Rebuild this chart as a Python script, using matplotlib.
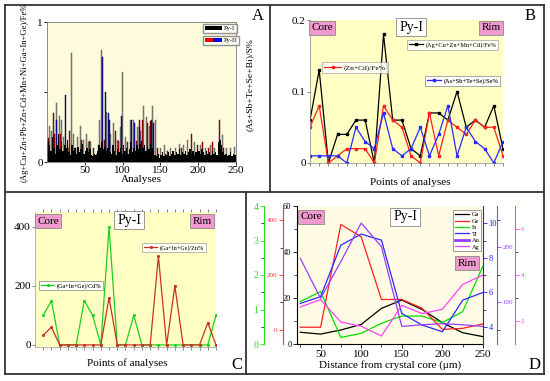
import numpy as np
import matplotlib.pyplot as plt
from matplotlib.lines import Line2D
from matplotlib.patches import Patch
from matplotlib.legend_handler import HandlerTuple

plt.rcParams['font.family'] = ['Liberation Serif', 'DejaVu Serif']

W, H = 550, 381

# ---------------- data ----------------
# panel A: bar heights
a_black = [0.15, 0.12, 0.08, 0.18, 0.10, 0.06, 0.12, 0.20, 0.09, 0.14,
           0.08, 0.12, 0.10, 0.16, 0.07, 0.05, 0.12, 0.08, 0.10, 0.06,
           0.11, 0.07, 0.09, 0.13, 0.06, 0.08, 0.10, 0.07, 0.09, 0.05,
           0.04, 0.06, 0.05, 0.08, 0.12, 0.10, 0.14, 0.09, 0.11, 0.08,
           0.10, 0.07, 0.06, 0.12, 0.08, 0.05, 0.09, 0.07, 0.10, 0.06,
           0.12, 0.08, 0.10, 0.06, 0.09, 0.14, 0.07, 0.10, 0.08, 0.12,
           0.09, 0.13, 0.07, 0.10, 0.12, 0.08, 0.11, 0.09, 0.13, 0.10,
           0.08, 0.05, 0.04, 0.06, 0.03, 0.05, 0.07, 0.04, 0.06, 0.05,
           0.07, 0.04, 0.06, 0.08, 0.05, 0.07, 0.06, 0.09, 0.05, 0.07,
           0.06, 0.08, 0.05, 0.07, 0.09, 0.06, 0.08, 0.05, 0.07, 0.09,
           0.08, 0.06, 0.09, 0.07, 0.05, 0.08, 0.06, 0.07, 0.05, 0.08,
           0.06, 0.07, 0.05, 0.14, 0.16, 0.12, 0.07, 0.05, 0.06, 0.04,
           0.05, 0.07, 0.04, 0.06, 0.05]
a_black_x = np.arange(1, 250, 2)
a_gray_x = [3, 6, 13, 16, 19, 22, 28, 32, 35, 40, 44, 48, 52, 55, 58, 65, 70, 72, 79, 84,
            88, 93, 97, 100, 104, 110, 114, 120, 124, 127, 131, 135, 140, 143, 150, 156,
            163, 170, 175, 180, 186, 195, 203, 210, 216, 222, 232, 237, 243, 248]
a_gray = [0.26, 0.22, 0.42, 0.33, 0.30, 0.18, 0.10, 0.78, 0.20, 0.18, 0.26, 0.16, 0.20, 0.14,
          0.14, 0.06, 0.30, 0.80, 0.36, 0.20, 0.28, 0.16, 0.25, 0.64, 0.18, 0.30, 0.30, 0.25,
          0.22, 0.40, 0.32, 0.26, 0.40, 0.30, 0.10, 0.12, 0.10, 0.10, 0.13, 0.12, 0.16, 0.14,
          0.12, 0.10, 0.12, 0.10, 0.19, 0.10, 0.10, 0.11]
a_red_x = [2, 8, 10, 18, 24, 30, 38, 46, 56, 62, 68, 76, 82, 90, 95, 106, 118, 122, 126, 133,
           137, 146, 160, 178, 191, 199, 206, 213, 219, 228, 234]
a_red = [0.17, 0.35, 0.20, 0.20, 0.12, 0.22, 0.10, 0.16, 0.15, 0.10, 0.12, 0.16, 0.14, 0.22,
         0.15, 0.14, 0.15, 0.30, 0.30, 0.28, 0.29, 0.10, 0.08, 0.10, 0.20, 0.12, 0.14, 0.10,
         0.14, 0.30, 0.10]
a_blue_x = [12, 24, 74, 77, 81, 83, 98, 112, 116, 123, 125, 138, 141]
a_blue = [0.30, 0.48, 0.75, 0.50, 0.35, 0.30, 0.33, 0.30, 0.28, 0.25, 0.15, 0.30, 0.28]

# panel B
b_x = np.arange(22)
b_all = [0.06, 0.13, 0.0, 0.04, 0.04, 0.06, 0.06, 0.0, 0.18, 0.06, 0.06,
         0.02, 0.01, 0.07, 0.07, 0.06, 0.10, 0.05, 0.06, 0.05, 0.08, 0.02]
b_zncd = [0.05, 0.08, 0.0, 0.01, 0.02, 0.02, 0.02, 0.0, 0.08, 0.06, 0.05,
          0.01, 0.0, 0.07, 0.01, 0.06, 0.05, 0.04, 0.06, 0.05, 0.05, 0.01]
b_as = [0.01, 0.01, 0.01, 0.01, 0.0, 0.05, 0.03, 0.02, 0.07, 0.02, 0.01,
        0.02, 0.05, 0.01, 0.04, 0.08, 0.01, 0.05, 0.03, 0.02, 0.0, 0.03]

# panel C
c_x = np.arange(22)
c_cd = [100, 150, 0, 0, 0, 150, 100, 0, 400, 0, 0, 100, 0, 0, 0, 0, 0, 0, 0, 0, 0, 100]
c_zn = [33, 60, 0, 0, 0, 0, 0, 0, 160, 0, 0, 0, 0, 0, 300, 0, 200, 0, 0, 0, 75, 0]

# panel D
d_x = [25, 50, 75, 100, 125, 150, 175, 200, 225, 250]
d_ga = [5.1, 4.3, 6.1, 8.5, 15.5, 19.1, 15.0, 9.3, 4.9, 3.2]
d_ge = [10, 10, 384, 339, 111, 111, 79, 2, 6, 22]
d_in = [1.23, 1.52, 0.19, 0.31, 0.60, 0.81, 0.81, 0.62, 0.94, 2.26]
d_tl = [5.35, 5.74, 8.73, 9.37, 9.02, 4.77, 4.10, 3.71, 5.54, 5.99]
d_au = [180, 107, 174, 244, 201, 56, 59, 61, 59, 56]
d_ag = [2.61, 2.93, 1.96, 1.77, 1.35, 2.68, 2.32, 2.51, 3.59, 4.00]


def box(x0, y0, x1, y1):
    return [x0 / W, 1 - y1 / H, (x1 - x0) / W, (y1 - y0) / H]


def tag(ax, x, y, s, pink=True, fs=8):
    ax.text(x / W, 1 - y / H, s, transform=ax.figure.transFigure, ha='center', va='center',
            fontsize=fs, zorder=10,
            bbox=dict(boxstyle='square,pad=0.2', fc='#f19ad0' if pink else 'white',
                      ec='#888888', lw=0.6))


def small_legend(ax, handle, label, x, y, fs=4.6):
    lg = ax.legend([handle], [label], loc='upper left', bbox_to_anchor=(x / W, 1 - y / H),
                   bbox_transform=ax.figure.transFigure, fontsize=fs, frameon=True,
                   fancybox=False, handlelength=2.2, borderpad=0.3, handletextpad=0.4,
                   borderaxespad=0)
    lg.get_frame().set_edgecolor('#888888')
    lg.get_frame().set_linewidth(0.5)
    ax.add_artist(lg)


fig = plt.figure(figsize=(5.5, 3.81), dpi=100)

# frame lines
for (x0, y0, x1, y1) in [(5, 5, 544, 5), (5, 374, 544, 374), (5, 5, 5, 374), (544, 5, 544, 374),
                         (5, 192, 544, 192), (270, 5, 270, 192), (246, 192, 246, 374)]:
    fig.add_artist(Line2D([x0 / W, x1 / W], [1 - y0 / H, 1 - y1 / H], color='#333333', lw=1.3))

# ---------------- panel A ----------------
axA = fig.add_axes(box(47, 22, 236, 162))
axA.set_facecolor('#fdfbdc')
axA.bar(a_gray_x, a_gray, width=1.3, color='#8a8a8a', edgecolor='#555555', lw=0.3)
axA.bar(a_red_x, a_red, width=1.3, color='#c00000', edgecolor='#500000', lw=0.3)
axA.bar(a_blue_x, a_blue, width=1.3, color='#1010b0', edgecolor='#000050', lw=0.3)
axA.bar(a_black_x, a_black, width=2.0, color='black', lw=0)
axA.set_xlim(0, 250)
axA.set_ylim(0, 1)
axA.set_xticks([50, 100, 150, 200, 250])
axA.set_yticks([0, 1])
axA.set_yticks([0.5], minor=True)
axA.tick_params(labelsize=8, length=2, width=0.6, pad=1)
axA.tick_params(which='minor', length=2, width=0.6)
axA.set_xlabel('Analyses', fontsize=8, labelpad=0)
for s in axA.spines.values():
    s.set_color('#777777')
    s.set_linewidth(0.6)
fig.text(25 / W, 1 - 92 / H, '(Ag+Cu+Zn+Pb+Zn+Cd+Mn+Ni+Ga+In+Ge)/Fe%', rotation=90,
         ha='center', va='center', fontsize=6.2)
fig.text(250 / W, 1 - 85 / H, '(As+Sb+Te+Se+Bi)/S%', rotation=90,
         ha='center', va='center', fontsize=6.8)
fig.text(258 / W, 1 - 16 / H, 'A', ha='center', va='center', fontsize=12)
lg1 = axA.legend([Patch(fc='black')], ['Py-I'], loc='upper left',
                 bbox_to_anchor=(203 / W, 1 - 24 / H), bbox_transform=fig.transFigure,
                 fontsize=4.6, fancybox=False, handlelength=2.6, borderpad=0.3,
                 handletextpad=0.4, borderaxespad=0)
lg1.get_frame().set_edgecolor('#777777')
axA.add_artist(lg1)
lg2 = axA.legend([(Patch(fc='red'), Patch(fc='blue'))], ['Py-II'], loc='upper left',
                 bbox_to_anchor=(203 / W, 1 - 36 / H), bbox_transform=fig.transFigure,
                 handler_map={tuple: HandlerTuple(ndivide=None, pad=0)},
                 fontsize=4.6, fancybox=False, handlelength=2.6, borderpad=0.3,
                 handletextpad=0.4, borderaxespad=0)
lg2.get_frame().set_edgecolor('#777777')

# ---------------- panel B ----------------
axB = fig.add_axes(box(310, 20, 503, 163))
axB.set_facecolor('#ffffc4')
lb1, = axB.plot(b_x, b_all, color='black', lw=0.9, marker='s', ms=1.5)
lb2, = axB.plot(b_x, b_zncd, color='#ff2020', lw=0.9, marker='s', ms=1.5)
lb3, = axB.plot(b_x, b_as, color='#2a2aff', lw=0.9, marker='s', ms=1.5)
axB.set_xlim(0, 21)
axB.set_ylim(0, 0.2)
axB.set_xticks(b_x)
axB.set_xticklabels([])
axB.set_yticks([0, 0.1, 0.2])
axB.set_yticklabels(['0', '0.1', '0.2'])
axB.tick_params(labelsize=8, length=2, width=0.5, pad=1, colors='#555555', labelcolor='black')
for k in ['top', 'right']:
    axB.spines[k].set_visible(False)
for k in ['left', 'bottom']:
    axB.spines[k].set_color('#888888')
    axB.spines[k].set_linewidth(0.5)
fig.text(410 / W, 1 - 182 / H, 'Points of analyses', ha='center', va='center', fontsize=8)
fig.text(530 / W, 1 - 16 / H, 'B', ha='center', va='center', fontsize=12)
tag(axB, 322, 28, 'Core')
tag(axB, 491, 28, 'Rim')
tag(axB, 411, 27, 'Py-I', pink=False, fs=10)
small_legend(axB, lb1, '(Ag+Cu+Zn+Mn+Cd)/Fe%', 407, 40)
small_legend(axB, lb2, '(Zn+Cd)/Fe%', 322, 62, fs=5.4)
small_legend(axB, lb3, '(As+Sb+Te+Se)/Se%', 425, 76)

# ---------------- panel C ----------------
axC = fig.add_axes(box(35, 212, 216, 347))
axC.set_facecolor('#ffffc4')
lc1, = axC.plot(c_x, c_cd, color='#22cc22', lw=0.9, marker='o', ms=1.2)
lc2, = axC.plot(c_x, c_zn, color='#c8302a', lw=0.9, marker='o', ms=1.2)
axC.set_xlim(-1, 21)
axC.set_ylim(-7, 450)
axC.set_xticks(c_x)
axC.set_xticklabels([])
axC.set_yticks([0, 200, 400])
axC.tick_params(labelsize=8, length=2, width=0.5, pad=1, colors='#555555', labelcolor='black',
                top=True)
for k in ['top', 'right']:
    axC.spines[k].set_visible(False)
for k in ['left', 'bottom']:
    axC.spines[k].set_color('#999999')
    axC.spines[k].set_linewidth(0.5)
fig.text(127 / W, 1 - 363 / H, 'Points of analyses', ha='center', va='center', fontsize=8)
fig.text(237 / W, 1 - 365 / H, 'C', ha='center', va='center', fontsize=12)
tag(axC, 48, 221, 'Core')
tag(axC, 202, 221, 'Rim')
tag(axC, 129, 220, 'Py-I', pink=False, fs=10)
small_legend(axC, lc2, '(Ga+In+Ge)/Zn%', 142, 243, fs=4.4)
small_legend(axC, lc1, '(Ga+In+Ge)/Cd%', 39, 281, fs=4.4)

# ---------------- panel D ----------------
axD = fig.add_axes(box(297, 206, 483, 344))
axD.set_facecolor('#fffbe4')
l_ga, = axD.plot(d_x, d_ga, color='black', lw=0.9)
axD.set_xlim(21, 250)
axD.set_ylim(0, 60)
axD.set_xticks([50, 100, 150, 200, 250])
axD.set_xticks([25, 75, 125, 175, 225], minor=True)
axD.set_yticks([0, 20, 40, 60])
axD.set_yticks([10, 30, 50], minor=True)
axD.tick_params(labelsize=8, length=3, width=0.6, pad=1)
axD.tick_params(axis='y', labelsize=6, pad=1)
axD.tick_params(which='minor', length=2, width=0.5)
axD.spines['top'].set_visible(False)
axD.spines['right'].set_visible(False)
axD.set_xlabel('Distance from crystal core (\u03bcm)', fontsize=8, labelpad=1)


def extra_axis(side, pos, color, ylim, ticks, minor):
    a = axD.twinx()
    for s in a.spines.values():
        s.set_visible(False)
    a.spines[side].set_visible(True)
    a.spines[side].set_position(('axes', pos))
    a.spines[side].set_color(color)
    a.yaxis.set_ticks_position(side)
    a.yaxis.set_label_position(side)
    a.set_ylim(*ylim)
    a.set_yticks(ticks)
    a.set_yticks(minor, minor=True)
    a.tick_params(axis='y', colors=color, labelsize=6, length=3, width=0.6, pad=1)
    a.tick_params(axis='y', which='minor', length=2, width=0.5)
    return a


axG = extra_axis('left', -33 / 186, '#22dd22', (0, 4), [0, 1, 2, 3, 4], [0.5, 1.5, 2.5, 3.5])
axG.tick_params(axis='y', labelsize=7)
l_in, = axG.plot(d_x, d_in, color='#00e000', lw=0.9)
axR = extra_axis('left', -14 / 186, '#ff3030', (-51, 451), [0, 200, 400], [100, 300])
axR.tick_params(axis='y', labelsize=5)
l_ge, = axR.plot(d_x, d_ge, color='#ff2020', lw=0.9)
axT = extra_axis('right', 1.0, '#2020ff', (3, 11), [4, 6, 8, 10], [5, 7, 9])
l_tl, = axT.plot(d_x, d_tl, color='#2a2aff', lw=0.9)
axU = extra_axis('right', 1 + 14 / 186, '#9a3cff', (24, 275), [100, 200], [50, 150, 250])
axU.tick_params(axis='y', labelsize=5)
l_au, = axU.plot(d_x, d_au, color='#9a3cff', lw=0.9)
axM = extra_axis('right', 1 + 32 / 186, '#ff40ff', (1, 7), [2, 4, 6], [3, 5])
axM.tick_params(axis='y', labelsize=5)
l_ag, = axM.plot(d_x, d_ag, color='#ff40ff', lw=0.9)

lgD = axM.legend([l_ga, l_ge, l_in, l_tl, Line2D([], [], color='#9a3cff', lw=2), l_ag],
                 ['Ga', 'Ge', 'In', 'Tl', 'Au', 'Ag'], loc='upper left',
                 bbox_to_anchor=(453 / W, 1 - 210 / H), bbox_transform=fig.transFigure,
                 fontsize=4.6, fancybox=False, handlelength=2.2, borderpad=0.3,
                 labelspacing=0.15, handletextpad=0.4, borderaxespad=0)
lgD.get_frame().set_edgecolor('#555555')
lgD.get_frame().set_linewidth(0.5)
tag(axM, 311, 217, 'Core')
tag(axM, 467, 263, 'Rim')
tag(axM, 405, 217, 'Py-I', pink=False, fs=10)
fig.text(535 / W, 1 - 365 / H, 'D', ha='center', va='center', fontsize=12)

fig.savefig('out.png', dpi=100)
